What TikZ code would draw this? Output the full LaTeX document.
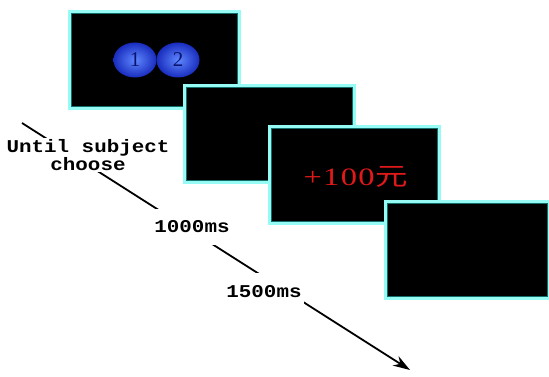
\documentclass[tikz,border=0pt]{standalone}
\usepackage{fontspec}
\setmainfont{Liberation Serif}
\newfontfamily\monob{Liberation Mono}[BoldFont={Liberation Mono Bold}]
\newfontfamily\cjk{Noto Sans CJK SC}
\usetikzlibrary{arrows.meta,shapes.geometric}
\definecolor{scrcyan}{RGB}{150,250,245}
\definecolor{scrteal}{RGB}{20,110,105}
\definecolor{ballin}{RGB}{95,135,255}
\definecolor{ballout}{RGB}{25,45,190}
\definecolor{balltxt}{RGB}{10,20,110}
\definecolor{rewardred}{RGB}{225,25,25}
\begin{document}
\begin{tikzpicture}[x=1pt,y=-1pt,
  screen/.style={anchor=north west, inner sep=0pt, fill=black,
    draw=scrcyan, line width=3pt,
    minimum width=170pt, minimum height=97pt,
    path picture={\draw[scrteal, line width=5pt]
      (path picture bounding box.south west) rectangle
      (path picture bounding box.north east);}},
  ball/.style={ellipse, inner sep=0pt, minimum width=43pt, minimum height=35pt,
    inner color=ballin, outer color=ballout,
    font=\fontsize{21}{21}\selectfont, text=balltxt},
  timelbl/.style={fill=white, inner xsep=2pt, align=center, xscale=1.16,
    font=\monob\bfseries\fontsize{18}{13}\selectfont},
  timeline/.style={line width=1.8pt, -{Stealth[length=17pt,width=11pt]}}
]
\useasboundingbox (0,0) rectangle (549,377);

% time axis
\coordinate (t0) at (22,123);
\coordinate (t1) at (410,370);
\draw[timeline] (t0) -- (t1);

% screens, each one in front of the previous one
\node[screen] (s1) at (68,10) {};
\node[ball] (b1) at (135,60) {1};
\node[ball] (b2) at (178,60) {2};
\node[screen] (s2) at (183,84) {};
\node[screen] (s3) at (268,125) {};
\node[text=rewardred, xscale=1.3, font=\fontsize{25}{25}\selectfont] (rw) at (356,177)
  {+\kern1pt 1\kern1pt 0\kern1pt 0\kern1pt{\cjk 元}};
\node[screen, minimum width=164pt] (s4) at (384,200) {};

% durations along the axis
\node[timelbl, inner ysep=2pt] (d1) at (88,155) {Until subject\\choose};
\node[timelbl, inner ysep=12pt] (d2) at (192,227) {1000ms};
\node[timelbl, inner ysep=13pt] (d3) at (264,292) {1500ms};
\end{tikzpicture}
\end{document}
